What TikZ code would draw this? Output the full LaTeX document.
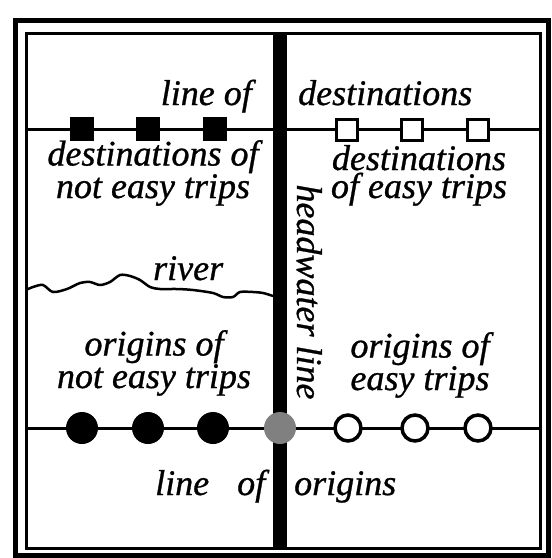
\documentclass[tikz,border=0pt]{standalone}
\usepackage{fontspec}
\setmainfont{Liberation Serif}
\newfontfamily\lblfont{Liberation Serif}[FakeBold=0.8]
\begin{document}
\begin{tikzpicture}[x=1pt,y=-1pt,
  lbl/.style={font=\lblfont\itshape\fontsize{36}{28}\selectfont, inner sep=0pt},
  thinline/.style={line width=3pt},
  fsq/.style={draw=black, fill=black, minimum size=23pt, inner sep=0pt},
  osq/.style={draw=black, fill=white, line width=3.5pt, minimum size=21pt, inner sep=0pt},
  fdot/.style={circle, fill=black, minimum size=32pt, inner sep=0pt},
  odot/.style={circle, draw=black, fill=white, line width=3.5pt, minimum size=26pt, inner sep=0pt},
  gdot/.style={circle, fill=black!50, minimum size=32pt, inner sep=0pt}]
\useasboundingbox (0,0) rectangle (552,558);
% frames
\draw[line width=5pt] (15,20) rectangle (548,555);
\draw[line width=3pt] (26,33) rectangle (540,548);
% coordinates
\coordinate (dL) at (26,129);
\coordinate (dR) at (540,129);
\coordinate (oL) at (26,428);
\coordinate (oR) at (540,428);
\coordinate (hT) at (280,33);
\coordinate (hB) at (280,548);
% lines
\draw[thinline] (dL) -- (dR);
\draw[thinline] (oL) -- (oR);
\draw[line width=14pt] (hT) -- (hB);
% river
\draw[line width=2.5pt, line join=round] plot[smooth, tension=0.5] coordinates {(26,290) (33,287) (43,285) (53,292) (67,289) (80,283) (90,282) (100,285) (110,282) (120,275) (130,276) (140,280) (150,287) (160,289) (177,289) (193,290) (213,293) (223,297) (233,297) (240,292) (253,292) (263,293) (273,296)};
% destination squares
\node[fsq] (d1) at (82,129) {};
\node[fsq] (d2) at (148,129) {};
\node[fsq] (d3) at (215,129) {};
\node[osq] (e1) at (347,130) {};
\node[osq] (e2) at (412,130) {};
\node[osq] (e3) at (478,130) {};
% origin circles
\node[fdot] (o1) at (82,428) {};
\node[fdot] (o2) at (148,428) {};
\node[fdot] (o3) at (213,428) {};
\node[gdot] (g) at (280,428) {};
\node[odot] (p1) at (348,428) {};
\node[odot] (p2) at (415,428) {};
\node[odot] (p3) at (478,428) {};
% labels
\node[lbl, anchor=base east] (t1) at (252,105) {line of};
\node[lbl, anchor=base west] (t2) at (298,105) {destinations};
\node[lbl, anchor=base, align=center] (t3) at (153,198) {destinations of\\not easy trips};
\node[lbl, anchor=base, align=center] (t5) at (419,198) {destinations\\of easy trips};
\node[lbl, anchor=base west] (t7) at (153,280) {river};
\node[lbl, anchor=base, align=center] (t8) at (154,388) {origins of\\not easy trips};
\node[lbl, anchor=base, align=center] (t10) at (420,390) {origins of\\easy trips};
\node[lbl, anchor=base west] (t12) at (155,495) {line};
\node[lbl, anchor=base west] (t13) at (237,495) {of};
\node[lbl, anchor=base west] (t14) at (294,495) {origins};
\node[lbl, anchor=base, rotate=-90] (t15) at (297,292) {headwater line};
\end{tikzpicture}
\end{document}
